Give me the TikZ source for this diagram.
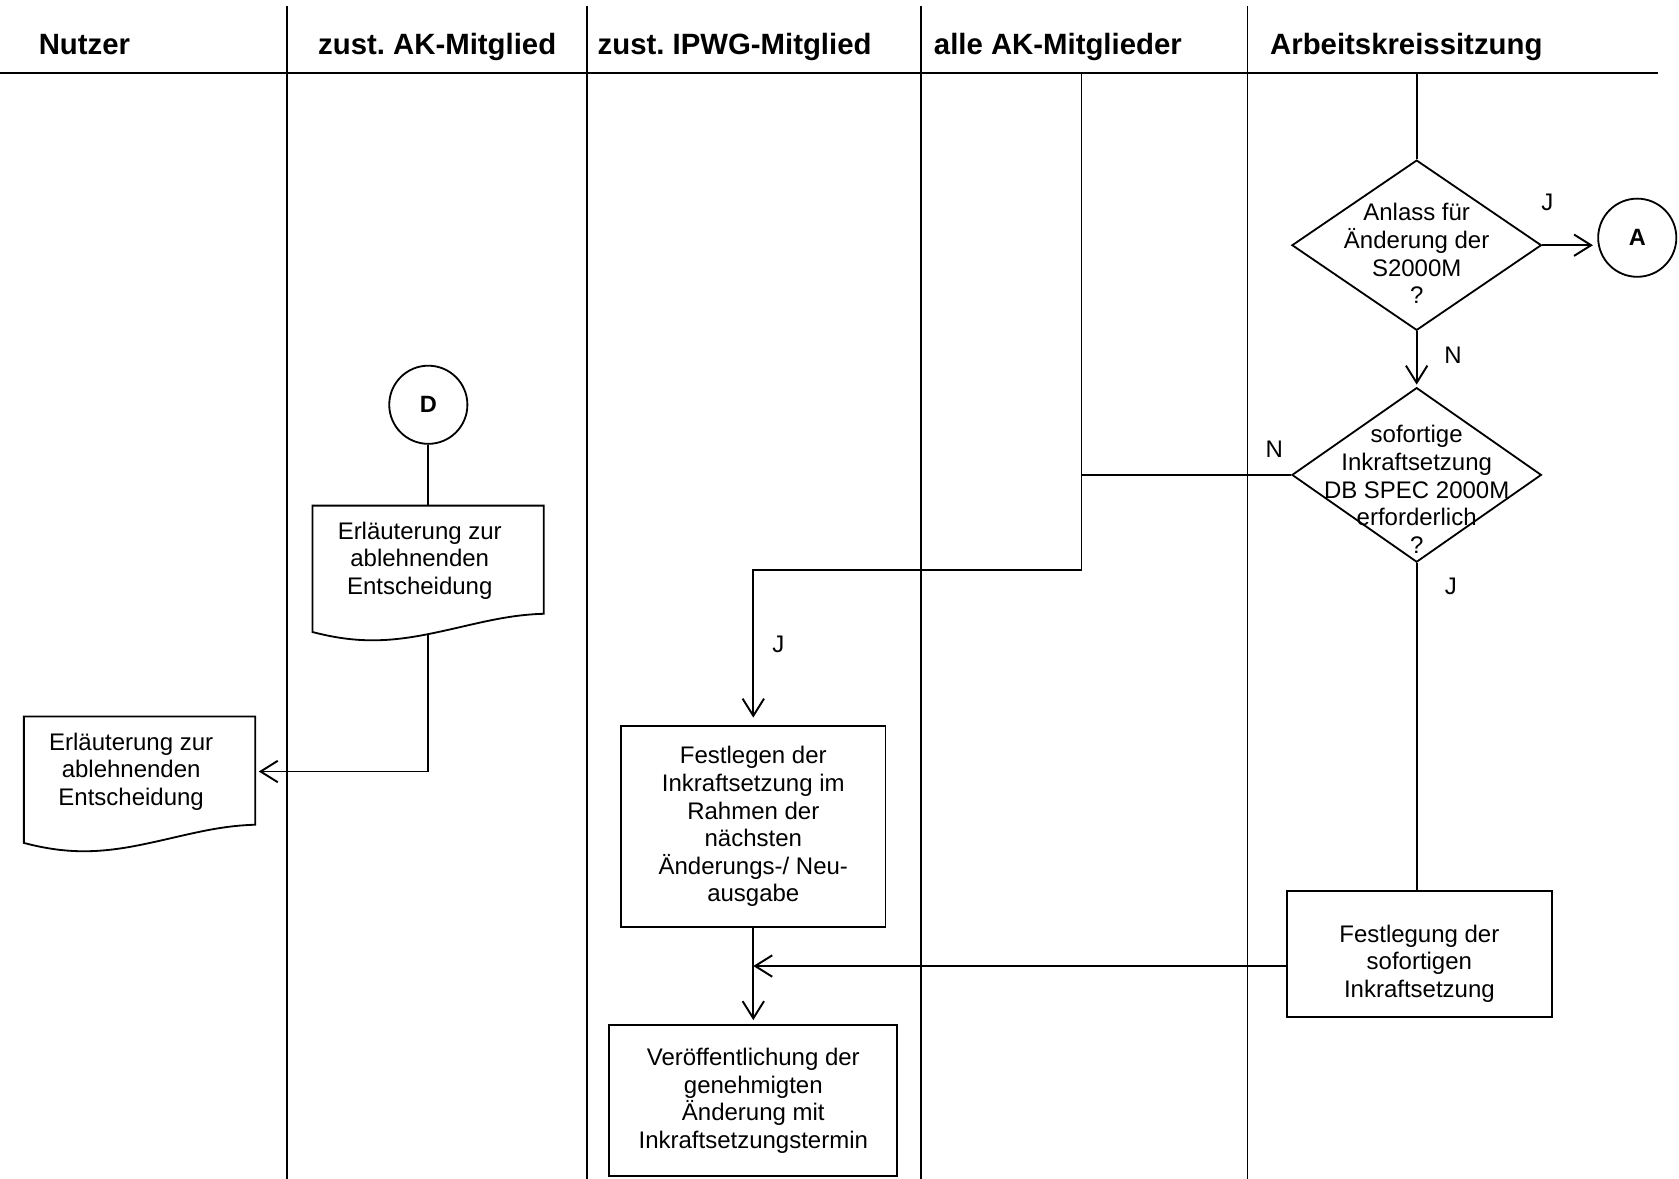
\documentclass[tikz,border=0pt]{standalone}
\usepackage{fontspec}
\setmainfont{Liberation Sans}
\usetikzlibrary{arrows.meta,shapes.geometric,calc}
\frenchspacing
\newcommand\bodyfnt{\fontsize{22.4}{25.8}\selectfont}
\newcommand\headfnt{\fontsize{27.4}{31}\selectfont\bfseries}
\newcommand\circfnt{\fontsize{22}{25}\selectfont\bfseries}
\newcommand\ctext[2]{\raisebox{#1pt}[0pt][0pt]{\makebox[0pt]{\begin{tabular}{@{}c@{}}#2\end{tabular}}}}
\begin{document}
\begin{tikzpicture}[x=1pt,y=-1pt,
  lane/.style={line width=1.4pt},
  conn/.style={line width=1.8pt},
  arr/.style={line width=1.8pt,-{Straight Barb[length=16pt,width=20pt,line width=1.8pt]}},
  boxline/.style={line width=1.7pt},
  head/.style={anchor=base west,inner sep=0pt,font=\headfnt},
  box/.style={draw,rectangle,line width=1.7pt,inner sep=0pt,align=center,font=\bodyfnt},
  doc/.style={rectangle,inner sep=0pt,align=center,font=\bodyfnt,minimum width=216pt,minimum height=101pt},
  circ/.style={draw,circle,line width=1.7pt,inner sep=0pt,minimum size=73pt,font=\circfnt},
  dia/.style={draw,diamond,line width=1.7pt,inner sep=0pt,font=\bodyfnt},
  lbl/.style={inner sep=0pt,font=\bodyfnt}
]
\useasboundingbox (0,0) rectangle (1568,1101);

% swimlanes
\draw[lane] (0,68) -- (1548,68);
\foreach \x in {268,548,860,1165} \draw[lane] (\x,5.6) -- (\x,1101);

% headers
\node[head] (h1) at (36,51) {Nutzer};
\node[head] (h2) at (297,51) {zust. AK-Mitglied};
\node[head] (h3) at (558,51) {zust. IPWG-Mitglied};
\node[head] (h4) at (872,51) {alle AK-Mitglieder};
\node[head] (h5) at (1186,51) {Arbeitskreissitzung};

% decisions and connectors (right lane)
\node[dia,minimum width=233pt,minimum height=159pt] (d1) at (1323,229)
  {\ctext{-15.6}{Anlass für\\Änderung der\\S2000M\\?}};
\node[dia,minimum width=233pt,minimum height=163pt] (d2) at (1323,443.5)
  {\ctext{-21.6}{sofortige\\Inkraftsetzung\\DB SPEC 2000M\\erforderlich\\?}};
\node[circ] (ca) at (1529,222) {A};
\node[box,minimum width=247pt,minimum height=118pt] (fs) at (1325.5,891)
  {\ctext{-14.6}{Festlegung der\\sofortigen\\Inkraftsetzung}};

% boxes in IPWG lane
\node[box,minimum width=247pt,minimum height=188pt] (fl) at (703.5,772)
  {Festlegen der\\Inkraftsetzung im\\Rahmen der\\nächsten\\Änderungs-/ Neu-\\ausgabe};
\node[box,minimum width=269pt,minimum height=141pt] (vo) at (703.5,1028)
  {Veröffentlichung der\\genehmigten\\Änderung mit\\Inkraftsetzungstermin};

% D connector and documents
\node[circ] (cd) at (400,378) {D};
\node[doc] (doc1) at (392,523.5) {Erläuterung zur\\ablehnenden\\Entscheidung};
\node[doc] (doc2) at (122.5,720.5) {Erläuterung zur\\ablehnenden\\Entscheidung};
\begin{scope}[shift={([xshift=8pt,yshift=1pt]doc1.south west)}]
  \draw[boxline] (0,17) -- (0,-101) -- (216,-101) -- (216,0)
    .. controls (178,1) and (148,11) .. (108,19)
    .. controls (68,27) and (38,27) .. (0,17) -- cycle;
  \coordinate (doc1b) at (108,19);
\end{scope}
\begin{scope}[shift={([xshift=8pt,yshift=1pt]doc2.south west)}]
  \draw[boxline] (0,17) -- (0,-101) -- (216,-101) -- (216,0)
    .. controls (178,1) and (148,11) .. (108,19)
    .. controls (68,27) and (38,27) .. (0,17) -- cycle;
\end{scope}

% connectors
\coordinate (t1) at (1323,68);
\coordinate (t2) at (1010,68);
\coordinate (jn) at (1010,532);
\coordinate (fsa) at ($(fs.north west)!0.593!(fs.south west)$);
\draw[conn] (t1) -- (d1.north);
\draw[arr,shorten >=4pt] (d1.east) -- (d1.east -| ca.west);
\draw[arr,shorten >=2pt] (d1.south) -- (d2.north);
\draw[conn] (d2.west) -- (d2.west -| t2);
\draw[arr,shorten >=7pt] (t2) -- (jn) -| (fl.north);
\draw[conn] (d2.south) -- (d2.south |- fs.north);
\draw[arr] (fsa) -- (fsa -| fl.south);
\draw[arr,shorten >=4pt] (fl.south) -- (vo.north);
\draw[conn] (cd.south) -- (cd.south |- doc1.north);
\draw[arr,shorten >=3pt] (doc1b) |- ([xshift=8pt]doc2.east);

% labels
\node[lbl] (lj1) at (1445,189) {J};
\node[lbl] (ln1) at (1357,332) {N};
\node[lbl] (ln2) at (1190,420) {N};
\node[lbl] (lj2) at (1355,548) {J};
\node[lbl] (lj3) at (727,602) {J};
\end{tikzpicture}
\end{document}
